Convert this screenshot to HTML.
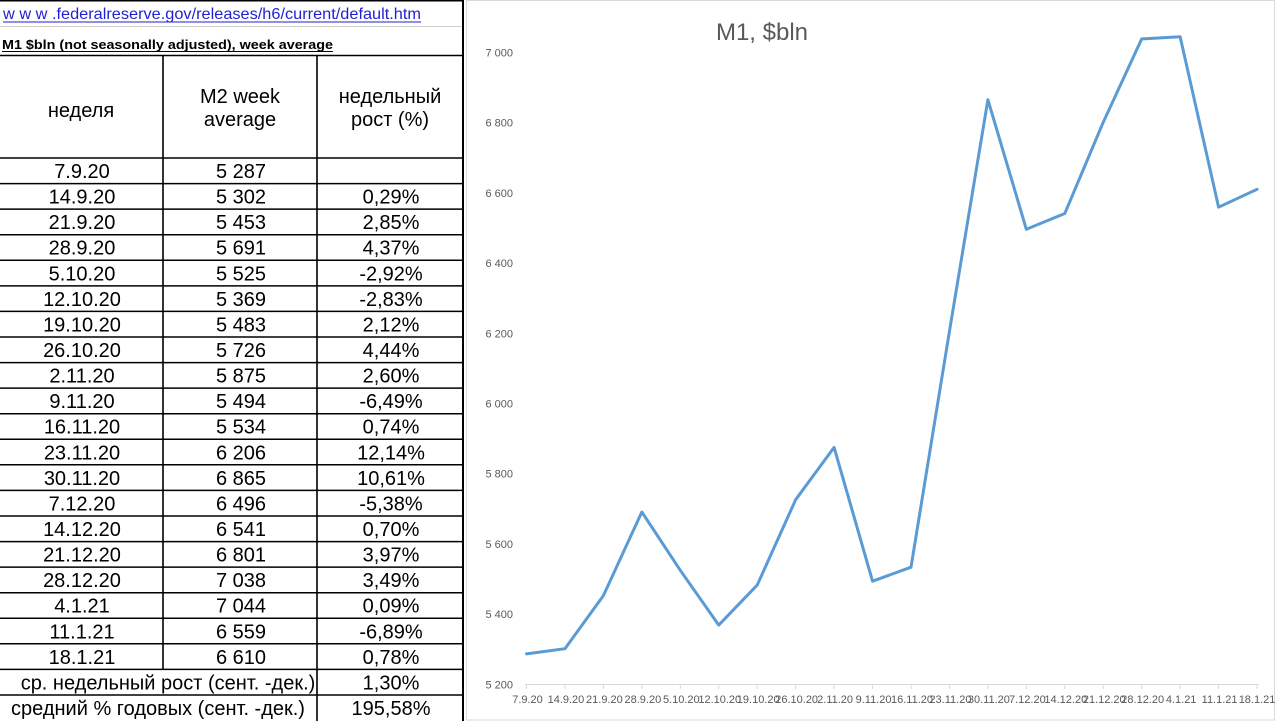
<!DOCTYPE html>
<html>
<head>
<meta charset="utf-8">
<style>
  html,body{margin:0;padding:0;background:#fff;}
  body{width:1275px;height:721px;overflow:hidden;}
  svg{display:block;}
  .t{font-family:"Liberation Sans","Noto Sans CJK SC",sans-serif;fill:#000;}
  .c{font-family:"Liberation Sans",sans-serif;fill:#595959;}
</style>
</head>
<body>
<svg width="1275" height="721" viewBox="0 0 1275 721" xmlns="http://www.w3.org/2000/svg">
  <rect x="0" y="0" width="1275" height="721" fill="#fff"/>

  <!-- ===== TABLE ===== -->
  <line x1="0" y1="0.5" x2="464" y2="0.5" stroke="#000" stroke-width="2"/>
  <text class="t" x="3" y="19" font-size="16" fill="#1f1fd6" style="fill:#1f1fd6" textLength="418" lengthAdjust="spacingAndGlyphs">w w w .federalreserve.gov/releases/h6/current/default.htm</text>
  <line x1="3" y1="22" x2="421" y2="22" stroke="#1f1fd6" stroke-width="1"/>
  <line x1="0" y1="26.5" x2="463" y2="26.5" stroke="#d0d0d0" stroke-width="1"/>
  <text class="t" x="2" y="49" font-size="13" font-weight="bold" textLength="331" lengthAdjust="spacingAndGlyphs">M1 $bln (not seasonally adjusted), week average</text>
  <line x1="2" y1="51.5" x2="333" y2="51.5" stroke="#000" stroke-width="1"/>
  <line x1="0" y1="55.5" x2="464" y2="55.5" stroke="#000" stroke-width="1.6"/>

  <!-- verticals -->
  <line x1="163" y1="55" x2="163" y2="670" stroke="#000" stroke-width="1.6"/>
  <line x1="317" y1="55" x2="317" y2="721" stroke="#000" stroke-width="1.6"/>
  <line x1="463" y1="0" x2="463" y2="721" stroke="#000" stroke-width="2"/>

  <!-- header -->
  <g class="t" font-size="20" text-anchor="middle">
    <text x="81" y="117">неделя</text>
    <text x="240" y="103">M2 week</text>
    <text x="240" y="126">average</text>
    <text x="390" y="103">недельный</text>
    <text x="390" y="126">рост (%)</text>
  </g>
  <line x1="0" y1="158" x2="464" y2="158" stroke="#000" stroke-width="1.6"/>

  <!-- row lines -->
  <g stroke="#000" stroke-width="1.5">
    <line x1="0" y1="183.6" x2="463" y2="183.6"/>
    <line x1="0" y1="209.1" x2="463" y2="209.1"/>
    <line x1="0" y1="234.7" x2="463" y2="234.7"/>
    <line x1="0" y1="260.3" x2="463" y2="260.3"/>
    <line x1="0" y1="285.9" x2="463" y2="285.9"/>
    <line x1="0" y1="311.4" x2="463" y2="311.4"/>
    <line x1="0" y1="337.0" x2="463" y2="337.0"/>
    <line x1="0" y1="362.6" x2="463" y2="362.6"/>
    <line x1="0" y1="388.1" x2="463" y2="388.1"/>
    <line x1="0" y1="413.7" x2="463" y2="413.7"/>
    <line x1="0" y1="439.3" x2="463" y2="439.3"/>
    <line x1="0" y1="464.8" x2="463" y2="464.8"/>
    <line x1="0" y1="490.4" x2="463" y2="490.4"/>
    <line x1="0" y1="516.0" x2="463" y2="516.0"/>
    <line x1="0" y1="541.6" x2="463" y2="541.6"/>
    <line x1="0" y1="567.1" x2="463" y2="567.1"/>
    <line x1="0" y1="592.7" x2="463" y2="592.7"/>
    <line x1="0" y1="618.3" x2="463" y2="618.3"/>
    <line x1="0" y1="643.8" x2="463" y2="643.8"/>
    <line x1="0" y1="669.4" x2="463" y2="669.4"/>
    <line x1="0" y1="695.0" x2="463" y2="695.0"/>
  </g>

  <g class="t" font-size="20" text-anchor="middle">
    <text x="82" y="178">7.9.20</text><text x="241" y="178">5 287</text>
    <text x="82" y="203.6">14.9.20</text><text x="241" y="203.6">5 302</text><text x="391" y="203.6">0,29%</text>
    <text x="82" y="229.1">21.9.20</text><text x="241" y="229.1">5 453</text><text x="391" y="229.1">2,85%</text>
    <text x="82" y="254.7">28.9.20</text><text x="241" y="254.7">5 691</text><text x="391" y="254.7">4,37%</text>
    <text x="82" y="280.3">5.10.20</text><text x="241" y="280.3">5 525</text><text x="391" y="280.3">-2,92%</text>
    <text x="82" y="305.9">12.10.20</text><text x="241" y="305.9">5 369</text><text x="391" y="305.9">-2,83%</text>
    <text x="82" y="331.4">19.10.20</text><text x="241" y="331.4">5 483</text><text x="391" y="331.4">2,12%</text>
    <text x="82" y="357.0">26.10.20</text><text x="241" y="357.0">5 726</text><text x="391" y="357.0">4,44%</text>
    <text x="82" y="382.6">2.11.20</text><text x="241" y="382.6">5 875</text><text x="391" y="382.6">2,60%</text>
    <text x="82" y="408.1">9.11.20</text><text x="241" y="408.1">5 494</text><text x="391" y="408.1">-6,49%</text>
    <text x="82" y="433.7">16.11.20</text><text x="241" y="433.7">5 534</text><text x="391" y="433.7">0,74%</text>
    <text x="82" y="459.3">23.11.20</text><text x="241" y="459.3">6 206</text><text x="391" y="459.3">12,14%</text>
    <text x="82" y="484.8">30.11.20</text><text x="241" y="484.8">6 865</text><text x="391" y="484.8">10,61%</text>
    <text x="82" y="510.4">7.12.20</text><text x="241" y="510.4">6 496</text><text x="391" y="510.4">-5,38%</text>
    <text x="82" y="536.0">14.12.20</text><text x="241" y="536.0">6 541</text><text x="391" y="536.0">0,70%</text>
    <text x="82" y="561.6">21.12.20</text><text x="241" y="561.6">6 801</text><text x="391" y="561.6">3,97%</text>
    <text x="82" y="587.1">28.12.20</text><text x="241" y="587.1">7 038</text><text x="391" y="587.1">3,49%</text>
    <text x="82" y="612.7">4.1.21</text><text x="241" y="612.7">7 044</text><text x="391" y="612.7">0,09%</text>
    <text x="82" y="638.3">11.1.21</text><text x="241" y="638.3">6 559</text><text x="391" y="638.3">-6,89%</text>
    <text x="82" y="663.8">18.1.21</text><text x="241" y="663.8">6 610</text><text x="391" y="663.8">0,78%</text>
    <text x="168" y="689.4">ср. недельный рост (сент. -дек.)</text><text x="391" y="689.4">1,30%</text>
    <text x="158" y="715">средний % годовых (сент. -дек.)</text><text x="391" y="715">195,58%</text>
  </g>

  <!-- ===== CHART ===== -->
  <rect x="466.5" y="0.5" width="808" height="719.5" fill="#fff" stroke="#d9d9d9" stroke-width="1"/>
  <text class="c" x="762" y="40" font-size="24" text-anchor="middle">M1, $bln</text>

  <g class="c" font-size="11" text-anchor="end">
    <text x="513" y="56.3">7 000</text>
    <text x="513" y="126.5">6 800</text>
    <text x="513" y="196.8">6 600</text>
    <text x="513" y="267.0">6 400</text>
    <text x="513" y="337.3">6 200</text>
    <text x="513" y="407.5">6 000</text>
    <text x="513" y="477.7">5 800</text>
    <text x="513" y="548.0">5 600</text>
    <text x="513" y="618.2">5 400</text>
    <text x="513" y="688.5">5 200</text>
  </g>

  <!-- x axis -->
  <line x1="525" y1="684.5" x2="1259" y2="684.5" stroke="#d9d9d9" stroke-width="1"/>
  <g stroke="#d9d9d9" stroke-width="1">
    <line x1="526.5" y1="684" x2="526.5" y2="689"/>
    <line x1="564.95" y1="684" x2="564.95" y2="689"/>
    <line x1="603.4" y1="684" x2="603.4" y2="689"/>
    <line x1="641.85" y1="684" x2="641.85" y2="689"/>
    <line x1="680.3" y1="684" x2="680.3" y2="689"/>
    <line x1="718.75" y1="684" x2="718.75" y2="689"/>
    <line x1="757.2" y1="684" x2="757.2" y2="689"/>
    <line x1="795.65" y1="684" x2="795.65" y2="689"/>
    <line x1="834.1" y1="684" x2="834.1" y2="689"/>
    <line x1="872.55" y1="684" x2="872.55" y2="689"/>
    <line x1="911" y1="684" x2="911" y2="689"/>
    <line x1="949.45" y1="684" x2="949.45" y2="689"/>
    <line x1="987.9" y1="684" x2="987.9" y2="689"/>
    <line x1="1026.35" y1="684" x2="1026.35" y2="689"/>
    <line x1="1064.8" y1="684" x2="1064.8" y2="689"/>
    <line x1="1103.25" y1="684" x2="1103.25" y2="689"/>
    <line x1="1141.7" y1="684" x2="1141.7" y2="689"/>
    <line x1="1180.15" y1="684" x2="1180.15" y2="689"/>
    <line x1="1218.6" y1="684" x2="1218.6" y2="689"/>
    <line x1="1257.05" y1="684" x2="1257.05" y2="689"/>
  </g>
  <g class="c" font-size="11" text-anchor="middle">
    <text x="527.5" y="703">7.9.20</text>
    <text x="565.95" y="703">14.9.20</text>
    <text x="604.4" y="703">21.9.20</text>
    <text x="642.85" y="703">28.9.20</text>
    <text x="681.3" y="703">5.10.20</text>
    <text x="719.75" y="703">12.10.20</text>
    <text x="758.2" y="703">19.10.20</text>
    <text x="796.65" y="703">26.10.20</text>
    <text x="835.1" y="703">2.11.20</text>
    <text x="873.55" y="703">9.11.20</text>
    <text x="912" y="703">16.11.20</text>
    <text x="950.45" y="703">23.11.20</text>
    <text x="988.9" y="703">30.11.20</text>
    <text x="1027.35" y="703">7.12.20</text>
    <text x="1065.8" y="703">14.12.20</text>
    <text x="1104.25" y="703">21.12.20</text>
    <text x="1142.7" y="703">28.12.20</text>
    <text x="1181.15" y="703">4.1.21</text>
    <text x="1219.6" y="703">11.1.21</text>
    <text x="1257.05" y="703">18.1.21</text>
  </g>

  <polyline fill="none" stroke="#5B9BD5" stroke-width="3" stroke-linejoin="round" stroke-linecap="round"
    points="526.5,653.9 564.95,648.7 603.4,595.6 641.85,512.0 680.3,570.3 718.75,625.1 757.2,585.1 795.65,499.7 834.1,447.4 872.55,581.2 911,567.2 949.45,331.2 987.9,99.7 1026.35,229.3 1064.8,213.5 1103.25,122.2 1141.7,38.9 1180.15,36.8 1218.6,207.2 1257.05,189.3"/>
</svg>
</body>
</html>
